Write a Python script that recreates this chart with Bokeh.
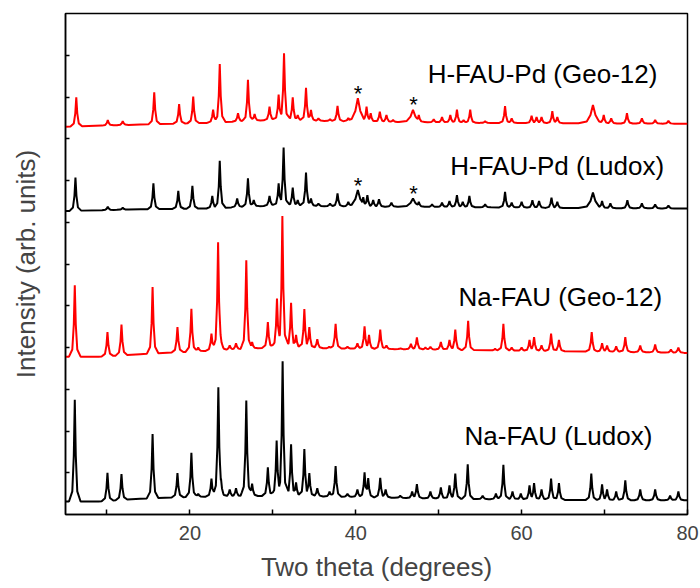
import numpy as np
from bokeh.plotting import figure
from bokeh.models import FixedTicker, ColumnDataSource, CustomLabelingPolicy
from bokeh.core.properties import value
from bokeh.embed import file_html
from bokeh.resources import INLINE

# ---------------- data ----------------
# Na-FAU (Ludox), black, bottom
naL_base_x = [5, 9, 14, 20, 30, 40, 50, 60, 70, 80]
naL_base_y = [0.31, 0.31, 0.38, 0.42, 0.45, 0.42, 0.38, 0.36, 0.34, 0.34]
naL_pos = [6.12, 10.06, 11.75, 15.5, 18.5, 20.18, 21.0, 22.6, 23.43, 23.75, 24.8, 25.56,
           26.8, 27.5, 29.4, 30.46, 31.18, 32.2, 32.8, 33.8, 34.4, 35.36, 36.84, 37.57,
           39.0, 40.2, 41.06, 41.5, 42.95, 43.6, 45.36, 46.8, 47.37, 49.0, 50.26, 51.3,
           52.0, 53.5, 55.3, 56.9, 57.8, 58.9, 59.9, 60.95, 61.5, 62.4, 63.55, 64.5,
           68.4, 69.7, 70.3, 71.4, 72.5, 74.3, 76.1, 77.9, 78.9]
naL_top = [2.75, 1.0, 0.97, 1.93, 0.99, 1.48, 0.5, 0.86, 3.05, 0.86, 0.6, 0.63,
           2.73, 0.74, 1.13, 1.77, 3.67, 1.68, 0.77, 1.57, 0.99, 0.63, 0.55, 1.16,
           0.5, 0.6, 1.01, 0.87, 0.88, 0.6, 0.45, 0.55, 0.73, 0.55, 0.65, 0.7,
           0.98, 1.2, 0.45, 0.5, 1.19, 0.55, 0.5, 0.7, 0.75, 0.6, 0.86, 0.75,
           0.98, 0.72, 0.6, 0.55, 0.82, 0.6, 0.6, 0.45, 0.55]
naL_bpos = []
naL_btop = []

# Na-FAU (Geo-12), red
naG_base_x = [5, 9, 14, 20, 30, 40, 50, 60, 70, 80]
naG_base_y = [3.78, 3.78, 3.84, 3.90, 4.00, 3.97, 3.95, 3.92, 3.90, 3.87]
naG_pos = [6.12, 10.06, 11.75, 15.5, 18.5, 20.18, 21.0, 22.6, 23.4, 23.7, 24.8, 25.56,
           26.8, 27.5, 29.4, 30.5, 31.15, 32.2, 32.8, 33.8, 34.4, 35.36, 36.8, 37.57,
           39.0, 40.2, 41.06, 41.6, 42.95, 43.7, 45.4, 46.65, 47.37, 48.4, 49.0, 50.26,
           51.3, 52.0, 53.55, 56.8, 57.8, 58.8, 60.0, 60.95, 61.5, 62.4, 63.55, 64.5,
           68.45, 69.7, 70.3, 71.4, 72.5, 74.3, 76.1, 78.0, 78.9]
naG_top = [5.49, 4.37, 4.55, 5.45, 4.49, 4.93, 4.0, 4.33, 6.52, 4.3, 4.05, 4.1,
           6.09, 4.13, 4.61, 5.17, 7.15, 5.07, 4.3, 4.92, 4.49, 4.2, 4.02, 4.57,
           4.02, 4.1, 4.51, 4.3, 4.43, 4.05, 3.98, 4.09, 4.24, 4.0, 4.02, 4.13,
           4.18, 4.43, 4.64, 3.97, 4.57, 4.0, 4.0, 4.18, 4.25, 4.05, 4.33, 4.18,
           4.37, 4.1, 4.05, 4.03, 4.25, 4.05, 4.07, 3.95, 4.0]
naG_bpos = []
naG_btop = []

# H-FAU-Pd (Ludox), black
hL_base_x = [5, 14, 22, 30, 38, 45, 55, 65, 80]
hL_base_y = [7.27, 7.31, 7.33, 7.40, 7.38, 7.37, 7.36, 7.34, 7.33]
hL_pos = [6.2, 10.1, 11.9, 15.6, 18.6, 20.3, 22.7, 23.6, 25.7, 27.0, 27.7, 29.6,
          30.7, 31.3, 32.4, 33.0, 34.0, 34.6, 35.5, 36.9, 37.8, 39.1, 40.9, 41.4,
          42.1, 42.8, 44.3, 47.6, 49.2, 50.4, 51.3, 52.2, 52.9, 53.7, 55.6, 58.0,
          58.8, 60.0, 61.3, 62.1, 63.6, 64.3, 69.7, 70.7, 72.75, 74.5, 76.1, 77.7]
hL_top = [8.07, 7.37, 7.35, 7.93, 7.75, 7.87, 7.63, 8.47, 7.57, 8.05, 7.53, 7.63,
          7.93, 8.79, 7.83, 7.53, 8.19, 7.57, 7.45, 7.45, 7.69, 7.49, 7.6, 7.65,
          7.53, 7.55, 7.47, 7.49, 7.43, 7.47, 7.51, 7.65, 7.49, 7.63, 7.43, 7.73,
          7.47, 7.49, 7.53, 7.51, 7.59, 7.49, 7.51, 7.45, 7.53, 7.45, 7.43, 7.40]
hL_bpos = [40.25, 46.9, 68.6]
hL_btop = [7.77, 7.57, 7.71]

# H-FAU-Pd (Geo-12), red, top
hG_base_x = [5, 14, 22, 30, 38, 45, 55, 66, 80]
hG_base_y = [9.29, 9.34, 9.38, 9.45, 9.42, 9.40, 9.38, 9.37, 9.36]
hG_pos = [6.3, 10.1, 11.9, 15.7, 18.7, 20.4, 22.8, 23.6, 25.8, 27.0, 27.8, 29.6,
          30.7, 31.35, 32.4, 33.0, 34.0, 34.6, 35.5, 36.9, 37.8, 39.1, 41.3, 41.8,
          42.9, 43.7, 44.5, 47.6, 49.4, 50.4, 51.4, 52.2, 53.0, 53.8, 55.6, 58.0,
          58.8, 61.2, 61.8, 62.4, 63.7, 64.3, 69.9, 70.8, 72.7, 74.5, 76.1, 77.7]
hG_top = [9.99, 9.45, 9.42, 10.11, 9.83, 10.01, 9.70, 10.79, 9.61, 10.41, 9.59, 9.77,
          10.06, 11.05, 9.99, 9.57, 10.22, 9.69, 9.49, 9.47, 9.79, 9.50, 9.77, 9.61,
          9.65, 9.57, 9.45, 9.57, 9.47, 9.52, 9.57, 9.70, 9.45, 9.70, 9.42, 9.78,
          9.49, 9.55, 9.52, 9.52, 9.66, 9.52, 9.57, 9.49, 9.61, 9.49, 9.45, 9.43]
hG_bpos = [40.25, 46.9, 68.6]
hG_btop = [9.97, 9.69, 9.81]

# asterisks marking the Pd reflections
star_x = [40.26, 46.97, 40.26, 46.97]
star_y = [10.17, 9.90, 7.97, 7.77]

sample_names = ["H-FAU-Pd (Geo-12)", "H-FAU-Pd (Ludox)", "Na-FAU (Geo-12)", "Na-FAU (Ludox)"]

x_ticks = [20, 40, 60, 80]
x_minor = [10, 30, 50, 70]
y_ticks = list(range(1, 12))

# ---------------- peak profile (style) ----------------
PROFILE_DX = np.array([-0.7, -0.3, -0.12, 0.0, 0.12, 0.3, 0.7])
PROFILE_F = np.array([0.0, 0.1, 0.45, 1.0, 0.45, 0.1, 0.0])
BROAD = 2.5


def build(base_x, base_y, pos, top, bpos, btop):
    peaks = [(p, t, 1.0) for p, t in zip(pos, top)] + [(p, t, BROAD) for p, t in zip(bpos, btop)]
    xs = list(base_x)
    for p, t, s in peaks:
        xs.extend(p + PROFILE_DX * s)
    xs = np.unique(np.clip(np.array(xs), 5, 80))
    base = np.interp(xs, base_x, base_y)
    y = base.copy()
    for p, t, s in peaks:
        b = np.interp(p, base_x, base_y)
        f = np.interp(xs, p + PROFILE_DX * s, PROFILE_F, left=0.0, right=0.0)
        y = np.maximum(y, base + (t - b) * f)
    return xs, y


FONT = "Liberation Sans"

p = figure(width=700, height=588, x_range=(5, 80), y_range=(0, 12),
           output_backend="svg", toolbar_location=None,
           min_border_left=65, min_border_right=13, min_border_top=13, min_border_bottom=74)
p.grid.visible = False
p.outline_line_color = "black"
p.outline_line_width = 1.5
p.background_fill_color = "white"
p.border_fill_color = "white"

traces = [
    (naL_base_x, naL_base_y, naL_pos, naL_top, naL_bpos, naL_btop, "black"),
    (naG_base_x, naG_base_y, naG_pos, naG_top, naG_bpos, naG_btop, "#ff0000"),
    (hL_base_x, hL_base_y, hL_pos, hL_top, hL_bpos, hL_btop, "black"),
    (hG_base_x, hG_base_y, hG_pos, hG_top, hG_bpos, hG_btop, "#ff0000"),
]
for bx, by, ps, ts, bps, bts, col in traces:
    xs, ys = build(bx, by, ps, ts, bps, bts)
    p.line(xs, ys, line_color=col, line_width=2)

# sample labels
lab_src = ColumnDataSource(dict(x=[48.67, 51.39, 52.39, 53.11],
                                y=[10.54, 8.35, 5.21, 1.88],
                                t=sample_names))
p.text(x="x", y="y", text="t", source=lab_src, text_font=value(FONT),
       text_font_size="26px", text_color="black", text_align="left",
       text_baseline="alphabetic")

# asterisks
st_src = ColumnDataSource(dict(x=star_x, y=[v - 0.08 for v in star_y], t=["*"] * len(star_x)))
p.text(x="x", y="y", text="t", source=st_src, text_font=value(FONT),
       text_font_size="22px", text_color="black", text_align="center",
       text_baseline="alphabetic")

# axes
xa = p.xaxis[0]
xa.ticker = FixedTicker(ticks=x_ticks, minor_ticks=x_minor)
xa.axis_label = "Two theta (degrees)"
xa.axis_label_text_font = FONT
xa.axis_label_text_font_size = "26px"
xa.axis_label_text_font_style = "normal"
xa.axis_label_standoff = 9
xa.major_label_text_font = FONT
xa.major_label_text_font_size = "20px"
xa.major_label_standoff = 11
xa.major_tick_in = 5
xa.major_tick_out = 0
xa.minor_tick_in = 5
xa.minor_tick_out = 0
xa.axis_line_width = 1.5
xa.major_tick_line_width = 1.5
xa.minor_tick_line_width = 1.5

ya = p.yaxis[0]
ya.ticker = FixedTicker(ticks=y_ticks, minor_ticks=[])
ya.major_label_text_font_size = "0px"
ya.major_label_policy = CustomLabelingPolicy(code="""
    for (const i of indices) { indices.unset(i) }
    return indices
""")
ya.major_label_standoff = 0
ya.axis_label = "Intensity (arb. units)"
ya.axis_label_text_font = FONT
ya.axis_label_text_font_size = "26px"
ya.axis_label_text_font_style = "normal"
ya.axis_label_standoff = 25
ya.major_tick_in = 4
ya.major_tick_out = 0
ya.minor_tick_in = 0
ya.minor_tick_out = 0
ya.axis_line_width = 1.5
ya.major_tick_line_width = 1.5

open("out.html", "w").write(file_html(p, INLINE))
